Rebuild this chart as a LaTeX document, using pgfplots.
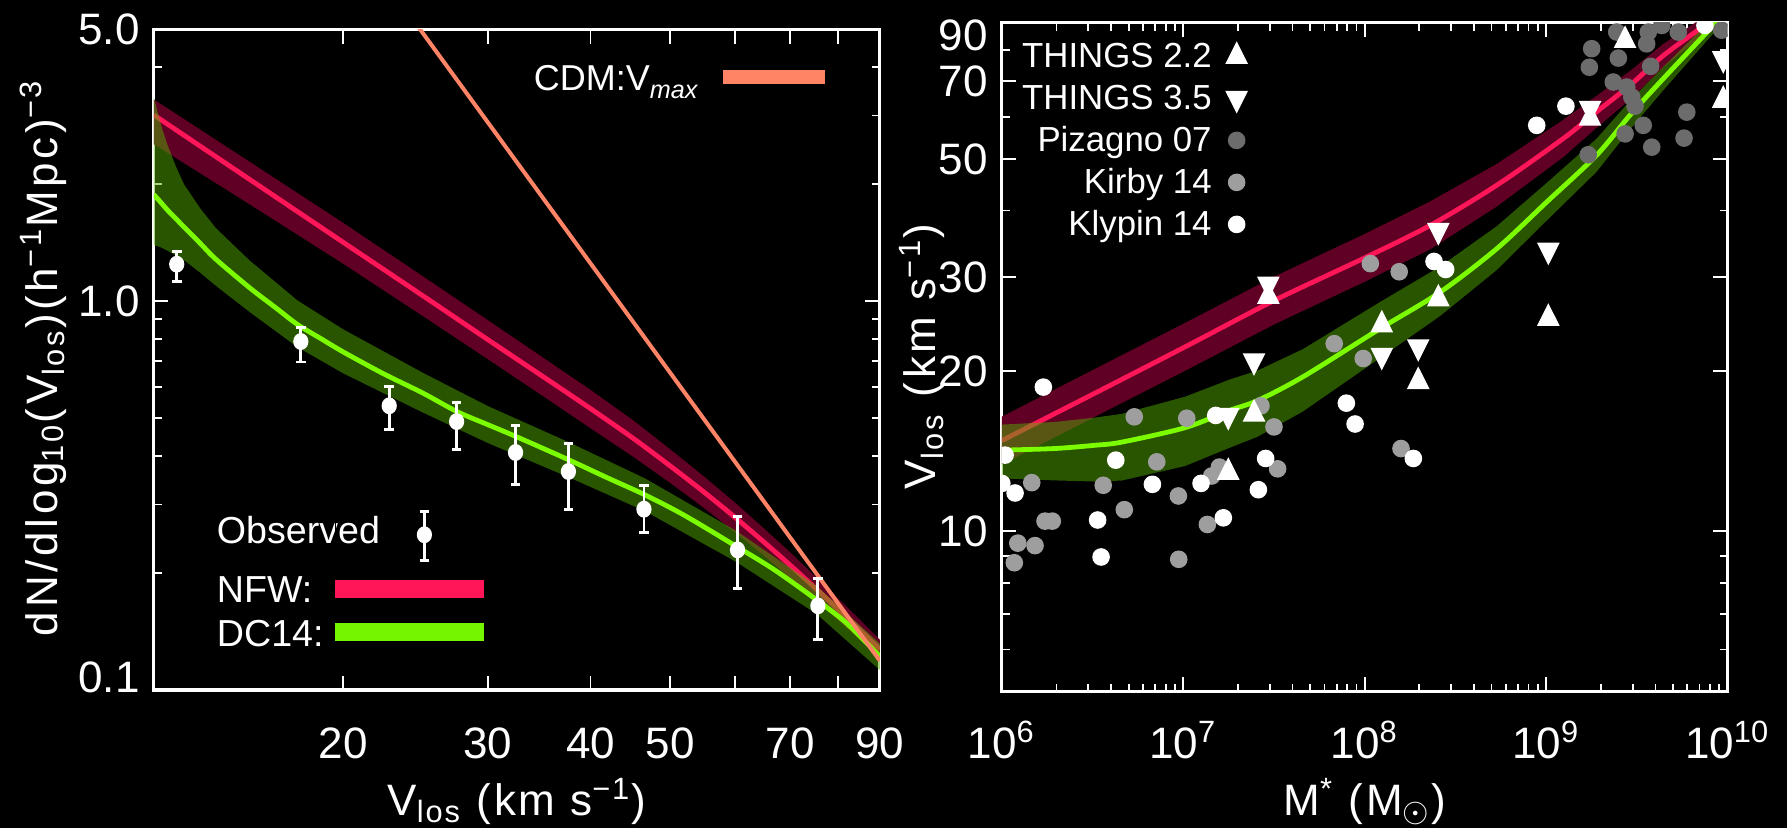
\documentclass[border=0pt]{standalone}
\usepackage{fontspec}
\setmainfont{Liberation Sans}
\newfontfamily\labfont{Liberation Sans}[LetterSpace=8.5]
\newfontfamily\xlabfont{Liberation Sans}[LetterSpace=6.0]
\usepackage{pgfplots}
\pgfplotsset{compat=1.18}

\definecolor{nfwline}{RGB}{255,22,88}
\definecolor{nfwband}{RGB}{96,0,37}
\definecolor{dcline}{RGB}{124,252,0}
\definecolor{dcband}{RGB}{84,170,0}
\definecolor{dcbar}{RGB}{118,245,0}
\definecolor{cdm}{RGB}{255,132,102}
\definecolor{pizagno}{RGB}{108,108,108}
\definecolor{kirby}{RGB}{158,158,158}

\begin{document}
\begin{tikzpicture}
\useasboundingbox (0,0) rectangle (446.75pt,207pt);
\fill[black] (0,0) rectangle (446.75pt,207pt);

% ---------------- left panel ----------------
\begin{axis}[scale only axis, xmode=log, ymode=log,
  axis line style={white, line width=0.8pt},
  tick style={white, line width=0.45pt},
  major tick length=3.6pt, minor tick length=2pt,
  tick align=inside, tick pos=both, ticklabel pos=left,
  every tick label/.append style={text=white, font=\fontsize{11}{13}\selectfont},
  every axis label/.append style={text=white},
  at={(38.45pt,34.5pt)}, anchor=south west,
  width=181.5pt, height=165.2pt,
  xmin=11.76, xmax=90, ymin=0.1, ymax=5,
  xtick={20,30,40,50,60,70,80,90}, xticklabels={20,30,40,50,,70,,90},
  ytick={1,5}, yticklabels={1.0,5.0},
  extra y ticks={0.1}, extra y tick labels={0.1},
  extra y tick style={tick label style={yshift=3.25pt}},
  minor ytick={0.2,0.3,0.4,0.5,0.6,0.7,0.8,0.9,2,3,4},
  xticklabel style={anchor=base, yshift=-17.1pt},
  xlabel={\xlabfont V\textsubscript{los} (km s\textsuperscript{−1})},
  xlabel style={at={(axis description cs:0.5,-0.1892)}, anchor=base, font=\fontsize{11}{13}\selectfont},
  ylabel={\labfont dN/dlog\textsubscript{10}(V\textsubscript{los})(h\textsuperscript{−1}Mpc)\textsuperscript{−3}},
  ylabel style={at={(axis description cs:-0.1523,0.503)}, anchor=center, font=\fontsize{11}{13}\selectfont},
  legend cell align=left, legend plot pos=right,
  legend style={draw=none, fill=none, text=white, font=\fontsize{9.4}{11}\selectfont,
    at={(0.0870,0.2649)}, anchor=north west, inner sep=0pt, outer sep=0pt,
    nodes={inner sep=0pt, text height=7pt, text depth=0pt},
    row sep=3.8pt, column sep=-11.35pt},
]
% NFW band
\addplot[forget plot, draw=none, fill=nfwband] coordinates {
 (11.76,3.30) (15,2.362) (20,1.589) (25,1.158) (30,0.893) (35,0.716) (40,0.591) (45,0.495)
 (50,0.416) (55,0.3537) (60,0.303) (65,0.2606) (70,0.2261) (75,0.1965) (80,0.1723) (85,0.152) (90,0.1348)
 (90,0.1202) (85,0.1348) (80,0.1515) (75,0.1711) (70,0.1942) (65,0.2219) (60,0.2544) (55,0.2936)
 (50,0.341) (45,0.399) (40,0.471) (35,0.570) (30,0.709) (25,0.915) (20,1.247) (15,1.834) (11.76,2.531)
} -- cycle;
% NFW line
\addplot[forget plot, nfwline, line width=1.2pt, smooth] coordinates {
 (11.76,3.01) (15,2.13) (20,1.416) (25,1.032) (30,0.796) (35,0.640) (40,0.529) (45,0.445) (50,0.377)
 (55,0.3226) (60,0.2777) (65,0.2404) (70,0.2095) (75,0.1834) (80,0.1615) (85,0.1431) (90,0.1273)
};
% DC14 band
\addplot[forget plot, draw=none, fill=dcband, fill opacity=0.5] coordinates {
 (11.76,3.343) (12.0,2.839) (12.2,2.544) (12.5,2.228) (12.8,1.996) (13.4,1.729) (14.0,1.539) (15.4,1.269)
 (17.6,1.003) (20,0.846) (25,0.654) (30,0.537) (37.6,0.434) (46.6,0.350) (60.2,0.2565) (75.4,0.1852) (90,0.1316)
 (90,0.1126) (75.4,0.1569) (60.2,0.2134) (46.6,0.2883) (37.6,0.3527) (30,0.4315) (25,0.517) (20,0.652)
 (17.6,0.761) (15.4,0.936) (14.0,1.094) (13.4,1.182) (12.8,1.274) (12.5,1.311) (12.2,1.350) (12.0,1.374) (11.76,1.393)
} -- cycle;
% DC14 line
\addplot[forget plot, dcline, line width=1.2pt, smooth] coordinates {
 (11.76,1.88) (12.0,1.791) (12.2,1.72) (12.5,1.632) (12.8,1.55) (13.4,1.406) (14.0,1.28) (15.4,1.08)
 (16.5,0.966) (17.6,0.87) (18.8,0.80) (20,0.74) (22.4,0.65) (25,0.58) (27.5,0.52) (30,0.481) (32.5,0.448)
 (37.6,0.391) (42,0.3508) (46.6,0.3175) (52,0.2815) (60.2,0.234) (67,0.2036) (75.4,0.1705) (82,0.1485) (90,0.122)
};
% CDM Vmax
\addplot[forget plot, cdm, line width=1pt] coordinates {(24.0,5.5) (90,0.119)};
% Observed
\addplot[forget plot, only marks, mark=*, mark size=1.7pt, mark options={white, fill=white, yscale=1.12},
  error bars/.cd, y dir=both, y explicit,
  error bar style={white, line width=0.7pt},
  error mark options={white, rotate=90, line width=0.7pt, mark size=1.2pt}] coordinates {
 (12.54,1.244) += (0,0.097) -= (0,0.122)
 (17.76,0.787) += (0,0.068) -= (0,0.090)
 (22.75,0.538) += (0,0.065) -= (0,0.0715)
 (27.48,0.490) += (0,0.0585) -= (0,0.0754)
 (32.42,0.408) += (0,0.0704) -= (0,0.071)
 (37.6,0.3646) += (0,0.0664) -= (0,0.074)
 (46.46,0.2917) += (0,0.0433) -= (0,0.0377)
 (60.4,0.2292) += (0,0.0498) -= (0,0.0464)
 (75.67,0.1646) += (0,0.0294) -= (0,0.030)
};
\addlegendimage{legend image code/.code={
  \path (0pt,-7.3pt) -- (0pt,3.5pt);
  \draw[white, line width=0.7pt, overlay] (22.25pt,-7.75pt) -- (22.25pt,4.5pt)
     (21.05pt,-7.75pt) -- (23.45pt,-7.75pt) (21.05pt,4.5pt) -- (23.45pt,4.5pt);
  \fill[white, overlay] (22.25pt,-1.25pt) ellipse[x radius=1.7pt, y radius=1.9pt];}}
\addlegendentry{Observed}
\addlegendimage{legend image code/.code={\fill[nfwline] (0pt,-2.1pt) rectangle (36.85pt,2.1pt);}}
\addlegendentry{NFW:}
\addlegendimage{legend image code/.code={\fill[dcbar] (0pt,-2.0pt) rectangle (36.85pt,2.0pt);}}
\addlegendentry{DC14:}
\end{axis}

% overlay axis holding the CDM legend
\begin{axis}[at={(38.45pt,34.5pt)}, anchor=south west, scale only axis,
  width=181.5pt, height=165.2pt, hide axis, xmin=0, xmax=1, ymin=0, ymax=1,
  legend cell align=left, legend plot pos=right,
  legend style={draw=none, fill=none, text=white, font=\fontsize{9}{11}\selectfont,
   at={(0.5236,0.9281)}, anchor=west, inner sep=0pt, outer sep=0pt,
   nodes={inner sep=0pt, text height=7pt, text depth=0pt}, column sep=6.4pt}]
\addlegendimage{legend image code/.code={\fill[cdm] (0pt,-1.6pt) rectangle (25.1pt,1.6pt);}}
\addlegendentry{CDM:V\raisebox{-0.4ex}{\fontsize{6.3}{7}\selectfont\itshape max}}
\end{axis}

% ---------------- right panel ----------------
\begin{axis}[scale only axis, xmode=log, ymode=log,
  axis line style={white, line width=0.8pt},
  tick style={white, line width=0.45pt},
  major tick length=3.6pt, minor tick length=2pt,
  tick align=inside, tick pos=both, ticklabel pos=left,
  every tick label/.append style={text=white, font=\fontsize{11}{13}\selectfont},
  every axis label/.append style={text=white},
  clip marker paths=true,
  at={(250.45pt,34.08pt)}, anchor=south west,
  width=181.45pt, height=167.2pt,
  xmin=1e6, xmax=1e10, ymin=5, ymax=90,
  xtick={1e6,1e7,1e8,1e9,1e10},
  xticklabels={10\textsuperscript{6},10\textsuperscript{7},10\textsuperscript{8},10\textsuperscript{9},10\textsuperscript{10}},
  minor xtick={2e6,3e6,4e6,5e6,6e6,7e6,8e6,9e6,2e7,3e7,4e7,5e7,6e7,7e7,8e7,9e7,
               2e8,3e8,4e8,5e8,6e8,7e8,8e8,9e8,2e9,3e9,4e9,5e9,6e9,7e9,8e9,9e9},
  ytick={10,20,30,50,70}, yticklabels={10,20,30,50,70},
  extra y ticks={90}, extra y tick labels={90},
  extra y tick style={tick label style={yshift=-3.1pt}},
  minor ytick={6,7,8,9,40,60,80},
  xticklabel style={anchor=base, yshift=-16.6pt},
  xlabel={\xlabfont M\textsuperscript{*} (M\textsubscript{\(\odot\)})},
  xlabel style={at={(axis description cs:0.5,-0.1844)}, anchor=base, font=\fontsize{11}{13}\selectfont},
  ylabel={\labfont V\textsubscript{los} (km s\textsuperscript{−1})},
  ylabel style={at={(axis description cs:-0.110,0.501)}, anchor=center, font=\fontsize{11}{13}\selectfont},
  legend cell align=right, legend plot pos=right,
  legend style={draw=none, fill=none, text=white, font=\fontsize{8.7}{10}\selectfont,
    at={(0.3374,0.9783)}, anchor=north east, inner sep=0pt, outer sep=0pt,
    nodes={inner sep=0pt, text height=7.5pt, text depth=2pt},
    row sep=1pt, column sep=3.74pt},
]
% NFW band
\addplot[forget plot, draw=none, fill=nfwband] coordinates {
 (1e6,16.41) (3.162e6,20.07) (1e7,24.51) (3.162e7,30.05) (1e8,36.15) (2.291e8,41.59) (5.333e8,48.9)
 (1.242e9,59.19) (1.897e9,65.68) (2.897e9,73.1) (4.416e9,82.16) (7.674e9,93.06) (1e10,99.8)
 (1e10,93.5) (7.674e9,86.46) (4.416e9,74.24) (2.897e9,64.57) (1.897e9,57.21) (1.242e9,50.37)
 (5.333e8,40.67) (2.291e8,33.81) (1e8,29.4) (3.162e7,24.44) (1e7,19.93) (3.162e6,16.32) (1e6,13.35)
} -- cycle;
\addplot[forget plot, nfwline, line width=1.2pt, smooth] coordinates {
 (1e6,14.8) (3.162e6,18.07) (1e7,22.1) (3.162e7,27.1) (1e8,32.6) (2.291e8,37.5) (5.333e8,44.6)
 (1.242e9,54.6) (1.897e9,61.3) (2.897e9,68.7) (4.416e9,78.1) (7.674e9,89.7) (1e10,96.6)
};
% DC14 band
\addplot[forget plot, draw=none, fill=dcband, fill opacity=0.5] coordinates {
 (1e6,15.86) (1.950e6,16.04) (3.236e6,16.34) (4.571e6,16.61) (1.023e7,17.89) (1.811e7,19.28)
 (2.570e7,20.03) (4.571e7,21.98) (1.213e8,26.93) (2.600e8,31.39) (5.333e8,37.36) (1.007e9,45.07)
 (1.897e9,54.56) (2.897e9,64.27) (4.416e9,74.38) (8.337e9,92.12) (1e10,97.9)
 (1e10,92.15) (8.337e9,85.97) (4.416e9,67.24) (2.897e9,56.78) (1.897e9,47.29) (1.007e9,38.31)
 (5.333e8,30.92) (2.600e8,25.35) (1.213e8,21.14) (4.571e7,16.79) (2.570e7,15.05) (1.811e7,14.36)
 (1.023e7,13.26) (4.571e6,12.45) (3.236e6,12.40) (1.950e6,12.46) (1e6,12.57)
} -- cycle;
\addplot[forget plot, dcline, line width=1.2pt, smooth] coordinates {
 (1e6,14.2) (1.950e6,14.3) (3.236e6,14.5) (4.571e6,14.7) (1.023e7,15.65) (1.811e7,16.87) (2.570e7,17.6)
 (4.571e7,19.5) (1.213e8,24.0) (2.600e8,28.1) (5.333e8,33.9) (1.007e9,41.5) (1.897e9,50.8)
 (2.897e9,60.4) (4.416e9,70.7) (8.337e9,89) (1e10,95)
};
% Kirby 14
\addplot[forget plot, only marks, mark=*, mark size=2pt, mark options={draw=kirby, fill=kirby}] coordinates {
 (1.074e8,31.8) (1.549e8,30.7) (6.792e7,22.5) (9.817e7,21.1) (2.679e7,17.2) (3.162e7,15.7)
 (5.370e6,16.4) (1.045e7,16.3) (3.311e7,13.1) (7.145e6,13.5) (1.462e6,12.34) (3.622e6,12.2)
 (9.397e6,11.65) (4.732e6,10.98) (1.435e7,12.7) (1.581e7,13.2) (1.358e7,10.3) (1.730e6,10.45)
 (1.897e6,10.45) (1.225e6,9.5) (1.524e6,9.4) (1.172e6,8.73) (9.441e6,8.86) (1.585e8,14.3) (0.98e6,20.9)
};
% Pizagno 07
\addplot[forget plot, only marks, mark=*, mark size=2pt, mark options={draw=pizagno, fill=pizagno}] coordinates {
 (1.782e9,80.5) (1.730e9,74.3) (2.449e9,86.5) (2.500e9,77.3) (3.656e9,86.5) (3.581e9,82.2)
 (3.767e9,74.6) (4.335e9,89) (5.346e9,86.5) (9.268e9,87.2) (2.344e9,69.7) (2.780e9,68.2)
 (2.965e9,65.3) (3.090e9,62.8) (3.428e9,57.8) (2.723e9,55.7) (3.819e9,52.6) (1.706e9,50.9)
 (5.957e9,61.2) (5.754e9,54.7)
};
% Klypin 14
\addplot[forget plot, only marks, mark=*, mark size=2pt, mark options={draw=white, fill=white}] coordinates {
 (1.694e6,18.65) (1.042e6,13.9) (1.0e6,12.3) (1.183e6,11.8) (4.246e6,13.6) (6.761e6,12.25)
 (3.373e6,10.5) (3.524e6,8.95) (1.253e7,12.3) (1.510e7,16.5) (1.663e7,10.6) (2.844e7,13.7)
 (2.594e7,11.97) (7.925e7,17.4) (8.851e7,15.9) (1.854e8,13.7) (2.410e8,32.1) (2.793e8,31.0)
 (1.285e9,62.8) (8.872e8,57.8) (7.499e9,89)
};
% THINGS 2.2 (up)
\addplot[forget plot, only marks, mark=triangle*, mark size=2.9pt, mark options={draw=white, fill=white, yscale=1.15}] coordinates {
 (2.944e7,27.6) (1.746e9,59.6) (2.723e9,83.4) (2.547e8,27.3) (1.242e8,24.4) (1.972e8,19.1)
 (1.028e9,25.1) (9.462e9,64.4) (2.455e7,16.6) (1.770e7,12.9)
};
% THINGS 3.5 (down)
\addplot[forget plot, only marks, mark=triangle*, mark size=2.9pt, mark options={draw=white, fill=white, rotate=180, yscale=1.15}] coordinates {
 (2.944e7,29.1) (1.746e9,62.2) (2.547e8,36.7) (1.028e9,33.7) (1.972e8,22.2) (1.242e8,21.4)
 (2.455e7,20.9) (9.462e9,77.1) (1.770e7,16.5)
};
\addlegendimage{legend image code/.code={\draw[white,fill=white] plot[only marks, mark=triangle*, mark size=2.9pt, mark options={yscale=1.15}] coordinates {(0pt,0pt)};}}
\addlegendentry{THINGS 2.2}
\addlegendimage{legend image code/.code={\draw[white,fill=white] plot[only marks, mark=triangle*, mark size=2.9pt, mark options={rotate=180,yscale=1.15}] coordinates {(0pt,0pt)};}}
\addlegendentry{THINGS 3.5}
\addlegendimage{legend image code/.code={\fill[pizagno] (0pt,0pt) circle[radius=2pt];}}
\addlegendentry{Pizagno 07}
\addlegendimage{legend image code/.code={\fill[kirby] (0pt,0pt) circle[radius=2pt];}}
\addlegendentry{Kirby 14}
\addlegendimage{legend image code/.code={\fill[white] (0pt,0pt) circle[radius=2pt];}}
\addlegendentry{Klypin 14}
\end{axis}
\end{tikzpicture}
\end{document}
